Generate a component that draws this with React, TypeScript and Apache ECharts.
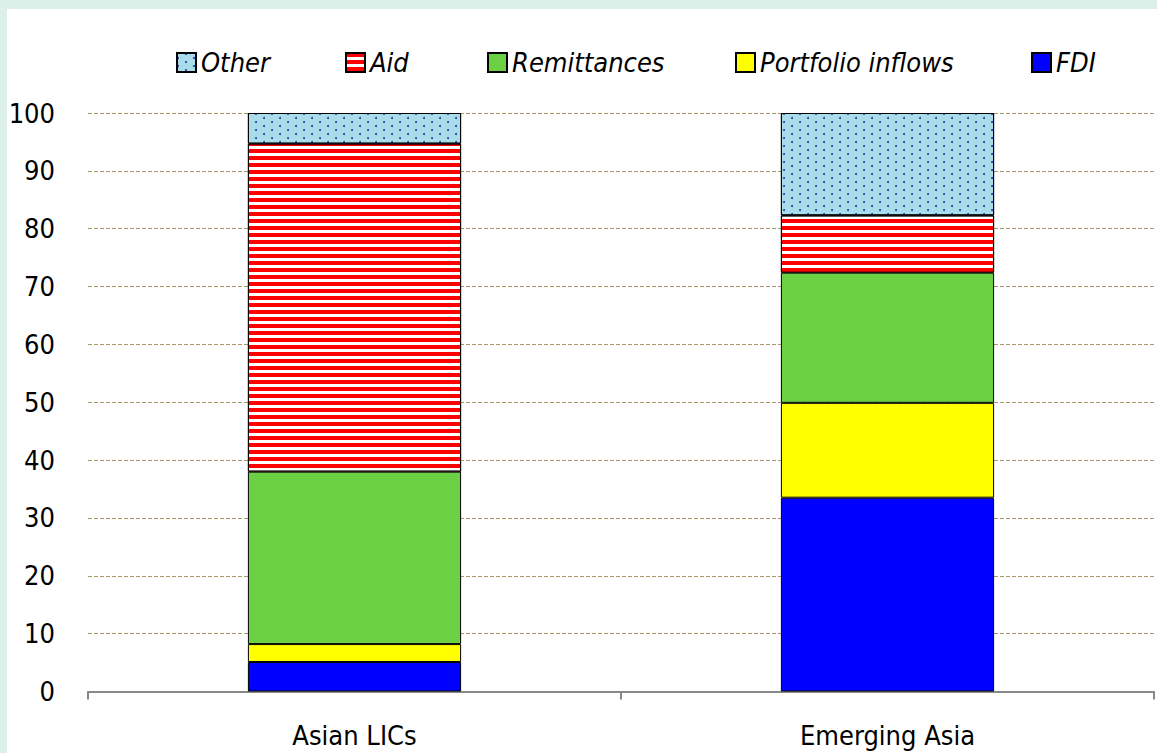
import React, { useEffect, useRef } from "react";
import * as echarts from "echarts";

const categories = ["Asian LICs", "Emerging Asia"];
const fdi = [5.1, 33.5];
const portfolio = [3.1, 16.4];
const remittances = [29.8, 22.5];
const aid = [56.7, 9.9];
const other = [5.3, 17.7];
const yTicks = [0, 10, 20, 30, 40, 50, 60, 70, 80, 90, 100];

const FONT = "'Liberation Sans Narrow', 'DejaVu Sans Condensed', 'Arial Narrow', sans-serif";

export default function App() {
  const ref = useRef<HTMLDivElement>(null);
  useEffect(() => {
    if (!ref.current) return;
    const chart = echarts.init(ref.current, undefined, { renderer: "svg" });
    const border = { borderColor: "#000", borderWidth: 1 };
    const legendText = { fontFamily: FONT, fontSize: 27, fontStyle: "italic", color: "#000" };
    const mkLegend = (name: string, left: number) => ({
      data: [{ name, icon: "rect" }],
      left,
      top: 40,
      padding: 0,
      itemWidth: 19,
      itemHeight: 19,
      itemGap: 8,
      textStyle: legendText,
      selectedMode: false,
    });
    chart.setOption({
      animation: false,
      backgroundColor: "#ffffff",
      legend: [
        mkLegend("Other", 169),
        mkLegend("Aid", 338),
        mkLegend("Remittances", 480),
        mkLegend("Portfolio inflows", 728),
        mkLegend("FDI", 1024),
      ],
      grid: { left: 81, right: 3, top: 104, bottom: 61.5, containLabel: false, outerBoundsMode: "none" },
      xAxis: {
        type: "category",
        data: categories,
        axisLine: { lineStyle: { color: "#888", width: 2 } },
        axisTick: { show: true, length: 8, lineStyle: { color: "#888", width: 2 } },
        axisLabel: { fontFamily: FONT, fontSize: 27, color: "#000", margin: 30 },
      },
      yAxis: {
        type: "value",
        min: yTicks[0],
        max: yTicks[yTicks.length - 1],
        interval: 10,
        axisLine: { show: false },
        axisTick: { show: false },
        axisLabel: { fontFamily: FONT, fontSize: 27, color: "#000", margin: 33 },
        splitLine: { lineStyle: { color: "#a8996a", type: [4, 2], width: 1 } },
      },
      series: [
        {
          name: "FDI",
          type: "bar",
          stack: "s",
          data: fdi,
          barWidth: "40%",
          itemStyle: { color: "#0000ff", ...border },
        },
        {
          name: "Portfolio inflows",
          type: "bar",
          stack: "s",
          data: portfolio,
          itemStyle: { color: "#ffff00", ...border },
        },
        {
          name: "Remittances",
          type: "bar",
          stack: "s",
          data: remittances,
          itemStyle: { color: "#6cd044", ...border },
        },
        {
          name: "Aid",
          type: "bar",
          stack: "s",
          data: aid,
          itemStyle: {
            color: "#ffffff",
            ...border,
            decal: {
              symbol: "rect",
              symbolSize: 1,
              color: "#ff0000",
              dashArrayX: [[1, 0]],
              dashArrayY: [4, 3],
              rotation: 0,
            },
          },
        },
        {
          name: "Other",
          type: "bar",
          stack: "s",
          data: other,
          itemStyle: {
            color: "#a8dde9",
            ...border,
            decal: {
              symbol: "circle",
              symbolSize: 1,
              color: "#2a3aa8",
              dashArrayX: [[2, 14], [0, 8, 2, 6]],
              dashArrayY: [2, 2],
              rotation: 0,
            },
          },
        },
      ],
    });
    return () => chart.dispose();
  }, []);
  return (
    <div style={{ position: "fixed", left: 0, top: 0, width: 1157, height: 753, background: "#dcefe8" }}>
      <div ref={ref} style={{ position: "absolute", left: 7, top: 9, width: 1150, height: 744, background: "#fff" }} />
    </div>
  );
}
